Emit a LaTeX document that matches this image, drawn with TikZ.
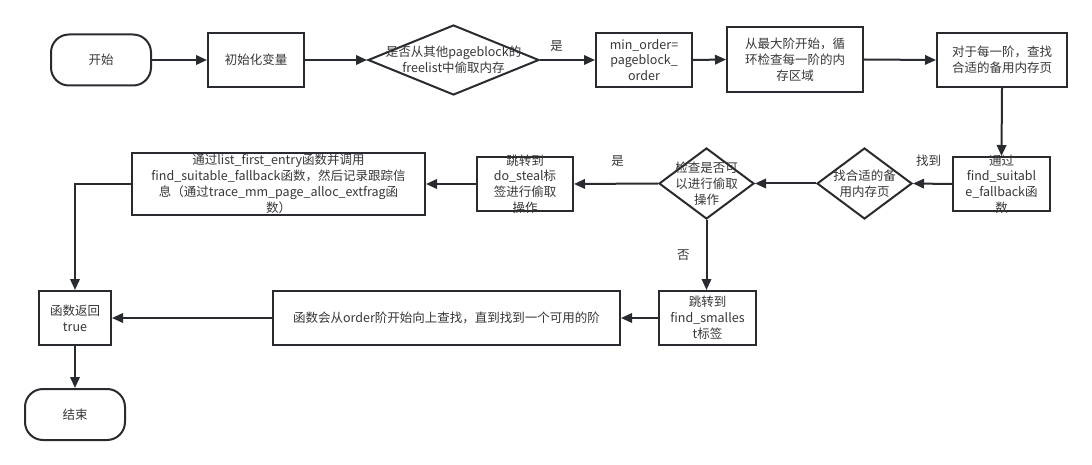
\documentclass[tikz,border=0pt]{standalone}
\usepackage{fontspec}
\setmainfont{Noto Sans CJK SC}
\usetikzlibrary{shapes.geometric,arrows.meta}
\definecolor{ln}{RGB}{40,44,48}
\definecolor{tx}{RGB}{55,55,55}
\begin{document}
\begin{tikzpicture}[x=1pt,y=-1pt,
  box/.style={draw=ln,line width=2pt,rectangle,inner sep=0pt,fill=white},
  term/.style={box,rounded corners=18pt},
  dia/.style={draw=ln,line width=2pt,diamond,inner sep=0pt,fill=white},
  txt/.style={text=tx,align=center,font=\fontsize{12.5}{15.8}\selectfont,inner sep=0pt},
  arr/.style={draw=ln,line width=2pt,-{Triangle[length=11pt,width=9.5pt]}},
  lbl/.style={txt}]
\fill[white] (0,0) rectangle (1092,465);
\useasboundingbox (0,0) rectangle (1092,465);

% shapes
\node[term,minimum width=100pt,minimum height=51pt] (start) at (101,60) {};
\node[box,minimum width=96pt,minimum height=54pt] (init) at (256,60) {};
\node[dia,minimum width=171pt,minimum height=70pt] (d1) at (453.5,60) {};
\node[box,minimum width=96pt,minimum height=54pt] (minorder) at (644,60) {};
\node[box,minimum width=136pt,minimum height=65pt] (maxorder) at (795,59.5) {};
\node[box,minimum width=130pt,minimum height=54pt] (each) at (1002,60) {};
\node[box,minimum width=97pt,minimum height=54pt] (viafind) at (1001.5,184) {};
\node[dia,minimum width=95pt,minimum height=71pt] (d2) at (864.5,183.5) {};
\node[dia,minimum width=95pt,minimum height=71pt] (d3) at (706.5,183.5) {};
\node[box,minimum width=96pt,minimum height=54pt] (dosteal) at (525,184) {};
\node[box,minimum width=293pt,minimum height=62pt] (listfirst) at (278.5,184) {};
\node[box,minimum width=72pt,minimum height=54pt] (ret) at (75,318) {};
\node[term,minimum width=100pt,minimum height=51pt] (end) at (75,414.5) {};
\node[box,minimum width=347pt,minimum height=54pt] (search) at (446.5,318) {};
\node[box,minimum width=97pt,minimum height=54pt] (smallest) at (707.5,318) {};

% texts
\node[txt] (startt) at (start) {开始};
\node[txt] (initt) at (init) {初始化变量};
\node[txt] (d1t) at (d1) {是否从其他pageblock的\\freelist中偷取内存};
\node[txt] (minordert) at (minorder) {min\_order=\\pageblock\_\\order};
\node[txt] (maxordert) at (maxorder) {从最大阶开始，循\\环检查每一阶的内\\存区域};
\node[txt] (eacht) at (each) {对于每一阶，查找\\合适的备用内存页};
\node[txt] (viafindt) at (viafind) {通过\\find\_suitabl\\e\_fallback函\\数};
\node[txt] (d2t) at (d2) {找合适的备\\用内存页};
\node[txt] (d3t) at (d3) {检查是否可\\以进行偷取\\操作};
\node[txt] (dostealt) at (dosteal) {跳转到\\do\_steal标\\签进行偷取\\操作};
\node[txt] (listfirstt) at (listfirst) {通过list\_first\_entry函数并调用\\find\_suitable\_fallback函数，然后记录跟踪信\\息（通过trace\_mm\_page\_alloc\_extfrag函\\数）};
\node[txt] (rett) at (ret) {函数返回\\true};
\node[txt] (endt) at (end) {结束};
\node[txt] (searcht) at (search) {函数会从order阶开始向上查找，直到找到一个可用的阶};
\node[txt] (smallestt) at (smallest) {跳转到\\find\_smalles\\t标签};

% connectors
\draw[arr] (start.east) -- (init.west);
\draw[arr] (init.east) -- (d1.west);
\draw[arr] (d1.east) -- node[lbl,pos=0.3,above=7pt] (yes1) {是} (minorder.west);
\draw[arr] (minorder.east) -- (maxorder.west);
\draw[arr] (maxorder.east) -- (each.west);
\draw[arr] (each.south) -- (viafind.north);
\draw[arr] (viafind.west) -- node[lbl,pos=0.6,above=16pt] (found) {找到} (d2.east);
\draw[arr] (d2.west) -- (d3.east);
\draw[arr] (d3.west) -- node[lbl,pos=0.48,above=16pt] (yes2) {是} (dosteal.east);
\draw[arr] (dosteal.west) -- (listfirst.east);
\draw[arr] (listfirst.west) -| (ret.north);
\draw[arr] (d3.south) -- node[lbl,pos=0.5,left=16pt] (no1) {否} (d3.south |- smallest.north);
\draw[arr] (smallest.west) -- (search.east);
\draw[arr] (search.west) -- (ret.east);
\draw[arr] (ret.south) -- (end.north);
\end{tikzpicture}
\end{document}
